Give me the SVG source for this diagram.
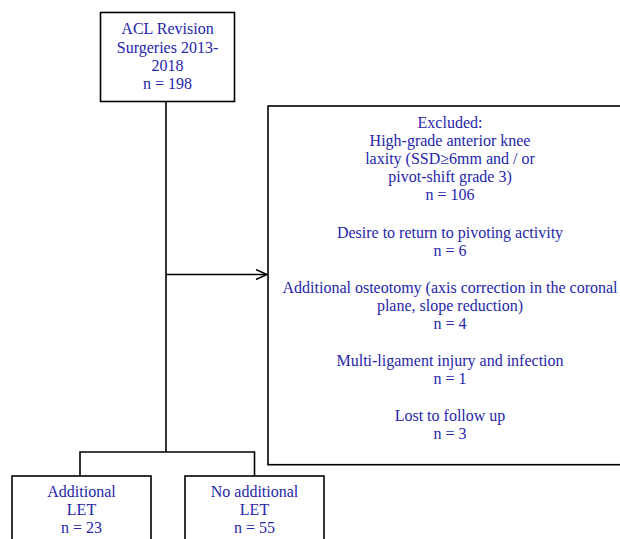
<svg xmlns="http://www.w3.org/2000/svg" width="620" height="539" viewBox="0 0 620 539">
<style>
.box{fill:#fff;stroke:#000;stroke-width:1.6}
.t{font-family:"Liberation Serif","Times New Roman",serif;font-size:16px;fill:#2626aa;text-anchor:middle}
.c{fill:none;stroke:#000;stroke-width:1.6}
</style>
<defs>
<marker id="ah" markerWidth="14" markerHeight="14" refX="12" refY="6" orient="auto" markerUnits="userSpaceOnUse">
<path d="M1,1 L12,6 L1,11" fill="none" stroke="#000" stroke-width="1.4"/>
</marker>
</defs>
<rect width="620" height="539" fill="#fff"/>
<g id="connectors">
<path class="c" d="M166,101.5 V452"/>
<path class="c" d="M166,274.5 H267" marker-end="url(#ah)"/>
<path class="c" d="M80,476 V452 H254.5 V476"/>
</g>
<g id="start">
<rect class="box" x="100.5" y="12.5" width="134" height="89"/>
<text class="t" x="167.5" y="34.3">ACL Revision</text>
<text class="t" x="167.5" y="52.5">Surgeries 2013-</text>
<text class="t" x="167.5" y="70.7">2018</text>
<text class="t" x="167.5" y="88.5">n = 198</text>
</g>
<g id="excluded">
<rect class="box" x="268" y="106" width="360" height="358.7"/>
<text class="t" x="450" y="128.3">Excluded:</text>
<text class="t" x="450" y="146.3">High-grade anterior knee</text>
<text class="t" x="450" y="164.3">laxity (SSD≥6mm and / or</text>
<text class="t" x="450" y="182.3">pivot-shift grade 3)</text>
<text class="t" x="450" y="200.3">n = 106</text>
<text class="t" x="450" y="237.7">Desire to return to pivoting activity</text>
<text class="t" x="450" y="255.7">n = 6</text>
<text class="t" x="450" y="292.7">Additional osteotomy (axis correction in the coronal</text>
<text class="t" x="450" y="310.7">plane, slope reduction)</text>
<text class="t" x="450" y="329">n = 4</text>
<text class="t" x="450" y="365.7">Multi-ligament injury and infection</text>
<text class="t" x="450" y="383.5">n = 1</text>
<text class="t" x="450" y="420.7">Lost to follow up</text>
<text class="t" x="450" y="438.5">n = 3</text>
</g>
<g id="let">
<rect class="box" x="12" y="476" width="139" height="80"/>
<text class="t" x="81.5" y="496.7">Additional</text>
<text class="t" x="81.5" y="515">LET</text>
<text class="t" x="81.5" y="533">n = 23</text>
</g>
<g id="nolet">
<rect class="box" x="185" y="476" width="139" height="80"/>
<text class="t" x="254.5" y="496.7">No additional</text>
<text class="t" x="254.5" y="515">LET</text>
<text class="t" x="254.5" y="533">n = 55</text>
</g>
</svg>
